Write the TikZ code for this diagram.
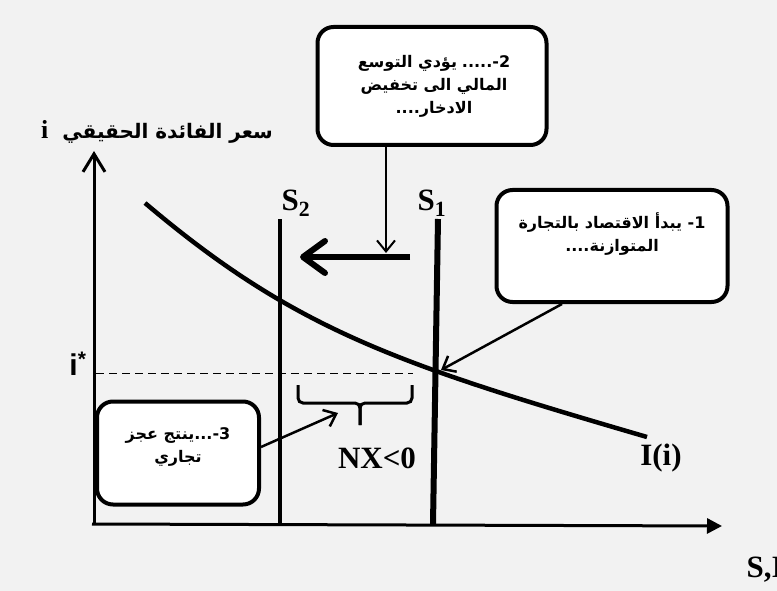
\documentclass[tikz,border=0pt]{standalone}
\usepackage{fontspec}
\setmainfont{Liberation Serif}
\newfontfamily\arabicfont[Script=Arabic]{DejaVu Sans}
\newfontfamily\sansfont{Liberation Sans}
\TeXXeTstate=1
\usetikzlibrary{arrows.meta}
\definecolor{paper}{HTML}{F2F2F2}
\tikzset{
	callout/.style={draw, line width=4pt, rounded corners=16pt, fill=white},
	calltext/.style={align=center, font=\arabicfont\bfseries\fontsize{16}{23}\selectfont},
	axis/.style={line width=3pt},
	pointer/.style={line width=2.5pt, -{Straight Barb[length=11pt,width=18pt]}},
	biglabel/.style={font=\bfseries\fontsize{31}{31}\selectfont},
}

\begin{document}
\begin{tikzpicture}[x=1pt,y=-1pt]
				\fill[paper] (0,0) rectangle (777,591);
				\useasboundingbox (0,0) rectangle (777,591);
				
				\coordinate (ybot) at (94,524);
				\coordinate (ytop) at (94,151);
				\coordinate (xleft) at (92,524);
				\coordinate (xright) at (722,526);
				\draw[axis, -{Straight Barb[length=18pt,width=22pt]}] (ybot) -- (ytop);
				\draw[axis, -{Triangle[length=15pt,width=15pt]}] (xleft) -- (xright);
				
				\coordinate (s2top) at (280,219);
				\coordinate (s2bot) at (280,524);
				\coordinate (s1top) at (438,219);
				\coordinate (s1bot) at (433,524);
				\draw[line width=4pt] (s2top) -- (s2bot);
				\draw[line width=6pt] (s1top) -- (s1bot);
				\node[biglabel] (s2) at (296,203) {S\textsubscript{2}};
				\node[biglabel] (s1) at (432,203) {S\textsubscript{1}};
				
				\draw[line width=4.5pt] (145,203) .. controls (295,330) and (397,364) .. (647,437);
				\node[biglabel] (inv) at (661,458) {I(i)};
				
				\coordinate (istar) at (96,373);
				\coordinate (dashend) at (413,373);
				\draw[line width=1pt, dash pattern=on 8pt off 5pt] (istar) -- (dashend);
				\node[font=\sansfont\bfseries\fontsize{30}{30}\selectfont] (ilabel) at (78,364) {i\textsuperscript{*}};
				
				\draw[line width=3pt, rounded corners=5pt] (298,385) |- (360,403) -- (360,425);
				\draw[line width=3pt, rounded corners=5pt] (412,385) |- (360,403) -- (360,425);
				\node[biglabel] (nx) at (377,458) {NX<0};
				\node[biglabel, anchor=west] (axlabel) at (743,570) {S,I};
				
				\node (ytitle) at (157,132) {{\bfseries\fontsize{26}{26}\selectfont i}\hspace{14pt}{\arabicfont\bfseries\fontsize{20}{20}\selectfont\beginR سعر الفائدة الحقيقي\endR}};
				
				\node[callout, minimum width=229pt, minimum height=118pt] (box2) at (432,86) {};
				\node[calltext] (text2) at (434,86) {\hbox{\beginR يؤدي التوسع\endR}\hspace{5pt}\hbox{2-.....}\\ \beginR المالي الى  تخفيض\endR\\ \beginR الادخار....\endR};
				\coordinate (drop) at (386,253);
				\draw[pointer, line width=2pt] (box2.south -| drop) -- (drop);
				
				\coordinate (shiftfrom) at (410,257);
				\coordinate (shiftto) at (300,257);
				\draw[line width=6pt, -{Straight Barb[length=22pt,width=32pt,round]}] (shiftfrom) -- (shiftto);
				
				\node[callout, minimum width=231pt, minimum height=112pt] (box1) at (612,246) {};
				\node[calltext] (text1) at (612,234) {\beginR 1- يبدأ الاقتصاد بالتجارة\endR\\ \beginR المتوازنة....\endR};
				\coordinate (eqpt) at (441,370);
				\draw[pointer] ([xshift=-50pt]box1.south) -- (eqpt);
				
				\node[callout, minimum width=162pt, minimum height=103pt] (box3) at (178,453) {};
				\node[calltext] (text3) at (178,447) {\beginR 3-...ينتج عجز\endR\\ \beginR تجاري\endR};
				\coordinate (brace) at (338,413);
				\draw[pointer] ([yshift=6pt]box3.east) -- (brace);
			\end{tikzpicture}
\end{document}
